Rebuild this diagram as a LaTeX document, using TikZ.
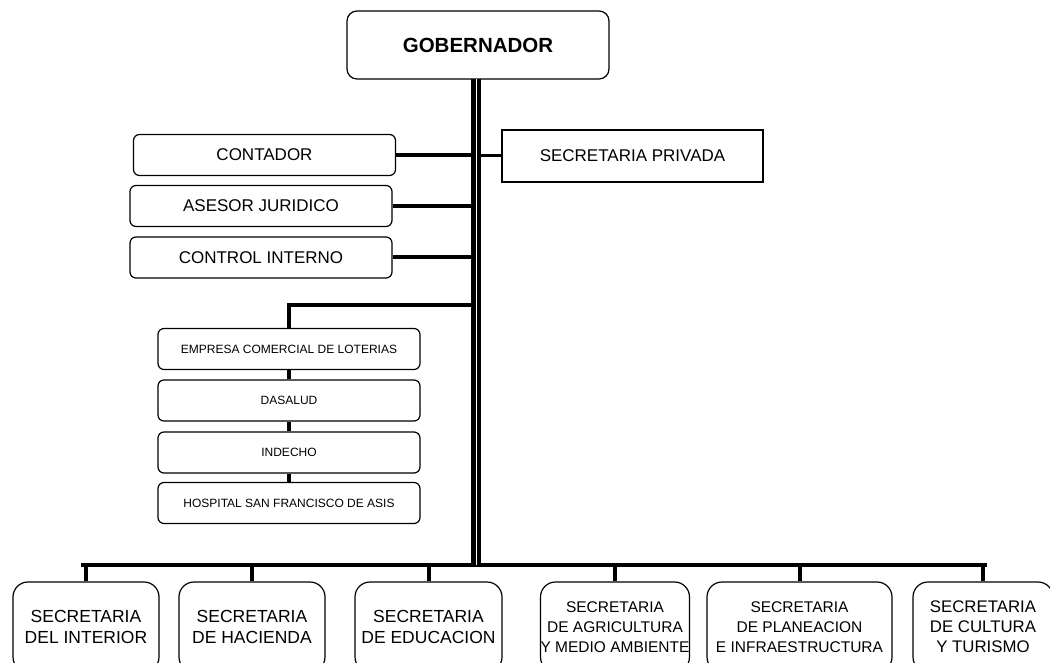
\documentclass[tikz,border=0pt]{standalone}
\usepackage{fontspec}
\setmainfont{Liberation Sans}
\usepackage{tikz}

\begin{document}
\begin{tikzpicture}[x=1pt,y=-1pt,
box/.style={draw, line width=1.2pt, rounded corners=6pt, align=center, inner sep=0pt,
    fill=white, font=\fontsize{17}{20}\selectfont},
side/.style={box, minimum width=262pt, minimum height=41pt},
unit/.style={box, minimum width=262pt, minimum height=41pt, font=\fontsize{12}{14}\selectfont},
sec/.style={box, rounded corners=15pt, minimum height=90pt, font=\fontsize{17.5}{21}\selectfont},
conn/.style={line width=4pt},
trunk/.style={double, double distance=1pt, line width=4.5pt}]
\path[use as bounding box, clip] (0,0) rectangle (1050,663);

% top
\node[box, rounded corners=10pt, minimum width=262pt, minimum height=68pt,
    font=\bfseries\fontsize{20.5}{24}\selectfont] (gob) at (478,45) {GOBERNADOR};
\coordinate (top) at (476,79);
\coordinate (barL) at (81,565);
\coordinate (barR) at (987,565);
\coordinate (br) at (476,305);

% staff
\node[side] (cont) at (264.5,155) {CONTADOR};
\node[side] (ases) at (261,206) {ASESOR JURIDICO};
\node[side] (ctrl) at (261,257.5) {CONTROL INTERNO};
\node[box, rounded corners=0pt, minimum width=261pt, minimum height=52pt] (priv) at (632.5,156) {SECRETARIA PRIVADA};

% decentralized
\node[unit] (emp) at (289,349) {EMPRESA COMERCIAL DE LOTERIAS};
\node[unit] (dasa) at (289,400.5) {DASALUD};
\node[unit] (inde) at (289,452.5) {INDECHO};
\node[unit] (hosp) at (289,503) {HOSPITAL SAN FRANCISCO DE ASIS};

% secretarias
\node[sec, minimum width=146pt] (int) at (86,627) {SECRETARIA\\DEL INTERIOR};
\node[sec, minimum width=146pt] (hac) at (252,627) {SECRETARIA\\DE HACIENDA};
\node[sec, minimum width=147pt] (edu) at (428.5,627) {SECRETARIA\\DE EDUCACION};
\node[sec, minimum width=146pt, font=\fontsize{15.5}{20}\selectfont] (agr) at (615,627) {SECRETARIA\\DE AGRICULTURA\\Y MEDIO AMBIENTE};
\node[sec, minimum width=185pt, font=\fontsize{15.5}{20}\selectfont] (pla) at (799.5,627) {SECRETARIA\\DE PLANEACION\\E INFRAESTRUCTURA};
\node[sec, minimum width=140pt, font=\fontsize{16.8}{20}\selectfont] (cul) at (983,627) {SECRETARIA\\DE CULTURA\\Y TURISMO};

% connectors
\draw[conn] (cont.east) -- (cont.east -| top);
\draw[conn] (ases.east) -- (ases.east -| top);
\draw[conn] (ctrl.east) -- (ctrl.east -| top);
\draw[line width=3pt] (priv.west) -- (priv.west -| top);
\draw[conn] (emp.north) |- (br);
\draw[conn] (emp.south) -- (dasa.north);
\draw[conn] (dasa.south) -- (inde.north);
\draw[conn] (inde.south) -- (hosp.north);
\draw[conn] (barL) -- (barR);
\foreach \s in {int,hac,edu,agr,pla,cul}
  \draw[conn] (\s.north) -- (\s.north |- barL);
\draw[trunk] (top) -- (top |- barL);
\end{tikzpicture}
\end{document}
